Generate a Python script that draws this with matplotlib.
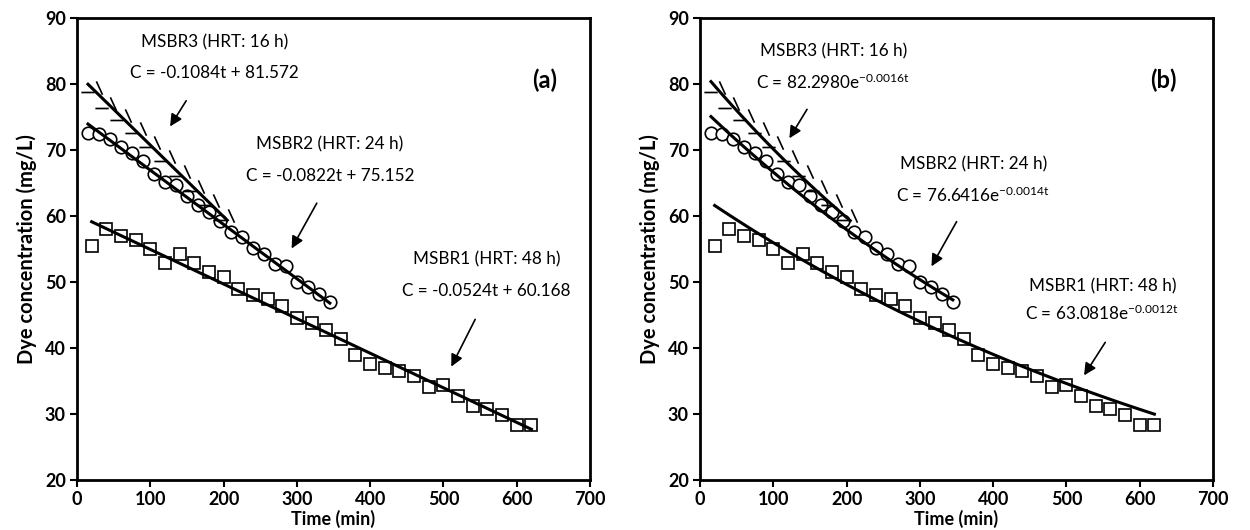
import numpy as np
import matplotlib
matplotlib.use('Agg')
from matplotlib import pyplot as plt
from matplotlib.path import Path

plt.rcParams['font.family'] = ['Lato', 'DejaVu Sans']
plt.rcParams['mathtext.fontset'] = 'custom'
plt.rcParams['mathtext.rm'] = 'Lato'
plt.rcParams['mathtext.it'] = 'Lato'

# measured dye concentrations (mg/L)
t1 = np.arange(20, 621, 20)
c1 = [55.4, 58.0, 56.9, 56.3, 55.0, 52.9, 54.2, 52.9, 51.5, 50.8, 48.9,
      48.0, 47.4, 46.3, 44.5, 43.8, 42.7, 41.4, 38.9, 37.6, 37.0, 36.5,
      35.7, 34.1, 34.4, 32.8, 31.2, 30.8, 29.9, 28.4, 28.4]
t2 = np.arange(15, 346, 15)
c2 = [72.5, 72.4, 71.6, 70.4, 69.6, 68.3, 66.3, 65.1, 64.7, 63.0, 61.6,
      60.6, 59.2, 57.6, 56.8, 55.1, 54.3, 52.7, 52.4, 50.0, 49.2, 48.1, 47.0]
t3 = np.arange(20, 201, 20)
c3 = [78.8, 76.4, 74.6, 72.6, 70.4, 68.3, 66.0, 63.8, 61.6, 59.4]

# fitted models
lin_fits = [(-0.0524, 60.168), (-0.0822, 75.152), (-0.1084, 81.572)]
exp_fits = [(63.0818, -0.0012), (76.6416, -0.0014), (82.2980, -0.0016)]
fit_ranges = [(20, 620), (15, 345), (15, 205)]

# custom marker: dash with a backslash
mk = Path([(-1.0, 0.0), (0.2, 0.0), (0.35, 1.0), (0.9, -0.2)],
          [Path.MOVETO, Path.LINETO, Path.MOVETO, Path.LINETO])

fig = plt.figure(figsize=(12.5, 5.3), dpi=100)
ax_a = fig.add_axes([0.0616, 0.0943, 0.4104, 0.872])
ax_b = fig.add_axes([0.56, 0.0943, 0.4104, 0.872])


def draw_data(ax):
    ax.plot(t1, c1, ls='none', marker='s', ms=8.5, mfc='white', mec='black', mew=1.2, zorder=3)
    ax.plot(t2, c2, ls='none', marker='o', ms=9, mfc='white', mec='black', mew=1.2, zorder=3)
    ax.plot(t3, c3, ls='none', marker=mk, ms=16, mfc='none', mec='black', mew=1.2, zorder=3)


def style(ax):
    ax.set_xlim(0, 700)
    ax.set_ylim(20, 90)
    ax.set_xticks(range(0, 701, 100))
    ax.set_yticks(range(20, 91, 10))
    for s in ax.spines.values():
        s.set_linewidth(2)
    ax.tick_params(direction='out', length=5, width=1.5, pad=3, labelsize=13, top=False, right=False)
    for lab in ax.get_xticklabels() + ax.get_yticklabels():
        lab.set_fontweight('bold')
    ax.set_xlabel('Time (min)', fontsize=13, fontweight='bold', labelpad=1)
    ax.set_ylabel('Dye concentration (mg/L)', fontsize=14.5, fontweight='bold', labelpad=6)


arrow = dict(arrowstyle='-|>', color='black', lw=1.2, mutation_scale=18)
fs = 12.3

# panel (a) linear fits
draw_data(ax_a)
for (m, b), (lo, hi) in zip(lin_fits, fit_ranges):
    tt = np.linspace(lo, hi, 50)
    ax_a.plot(tt, m * tt + b, color='black', lw=2.2, zorder=4)
style(ax_a)
ax_a.text(188, 86.3, 'MSBR3 (HRT: 16 h)', ha='center', va='center', fontsize=fs)
ax_a.text(188, 81.6, 'C = -0.1084t + 81.572', ha='center', va='center', fontsize=fs)
ax_a.annotate('', xy=(125, 73.2), xytext=(151, 77.8), arrowprops=arrow)
ax_a.text(345, 70.8, 'MSBR2 (HRT: 24 h)', ha='center', va='center', fontsize=fs)
ax_a.text(345, 66.0, 'C = -0.0822t + 75.152', ha='center', va='center', fontsize=fs)
ax_a.annotate('', xy=(291, 54.7), xytext=(329, 62.3), arrowprops=arrow)
ax_a.text(559, 53.4, 'MSBR1 (HRT: 48 h)', ha='center', va='center', fontsize=fs)
ax_a.text(559, 48.6, 'C = -0.0524t + 60.168', ha='center', va='center', fontsize=fs)
ax_a.annotate('', xy=(509, 36.8), xytext=(545, 44.7), arrowprops=arrow)
ax_a.text(638, 80.5, '(a)', ha='center', va='center', fontsize=17, fontweight='bold')

# panel (b) exponential fits
draw_data(ax_b)
for (a0, k), (lo, hi) in zip(exp_fits, fit_ranges):
    tt = np.linspace(lo, hi, 100)
    ax_b.plot(tt, a0 * np.exp(k * tt), color='black', lw=2.2, zorder=4)
style(ax_b)
ax_b.text(182, 84.9, 'MSBR3 (HRT: 16 h)', ha='center', va='center', fontsize=fs)
ax_b.text(182, 80.3, r'C = 82.2980e$^{\mathrm{-0.0016t}}$', ha='center', va='center', fontsize=fs)
ax_b.annotate('', xy=(120, 71.4), xytext=(148, 76.5), arrowprops=arrow)
ax_b.text(373, 67.8, 'MSBR2 (HRT: 24 h)', ha='center', va='center', fontsize=fs)
ax_b.text(373, 63.2, r'C = 76.6416e$^{\mathrm{-0.0014t}}$', ha='center', va='center', fontsize=fs)
ax_b.annotate('', xy=(314, 52.0), xytext=(352, 59.5), arrowprops=arrow)
ax_b.text(549, 49.3, 'MSBR1 (HRT: 48 h)', ha='center', va='center', fontsize=fs)
ax_b.text(549, 45.2, r'C = 63.0818e$^{\mathrm{-0.0012t}}$', ha='center', va='center', fontsize=fs)
ax_b.annotate('', xy=(522, 35.5), xytext=(555, 41.2), arrowprops=arrow)
ax_b.text(632, 80.5, '(b)', ha='center', va='center', fontsize=17, fontweight='bold')

plt.savefig('out.png', dpi=100)
